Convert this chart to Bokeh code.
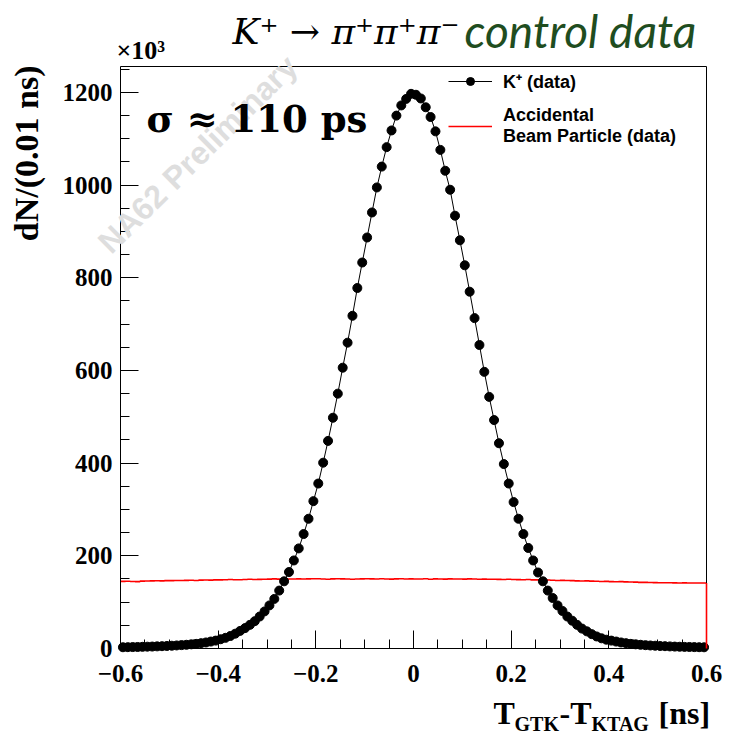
import numpy as np
from bokeh.plotting import figure
from bokeh.models import (Range1d, FixedTicker, CustomJSTickFormatter, Label,
                          Legend, LegendItem, ColumnDataSource, LinearAxis)
from bokeh.embed import file_html
from bokeh.resources import INLINE

# ---------------- data ----------------
x_min, x_max = -0.6, 0.6
n_bins = 120
y_max = 1256.0            # ×10^3

# K+ (data), entries per 0.01 ns bin, in units of 10^3
kplus = [
    2.7, 2.9, 3.1, 3.3, 3.6, 3.9, 4.2, 4.6, 5.0, 5.5,
    6.0, 6.6, 7.3, 8.0, 9.0, 10.0, 11.5, 13, 15, 17,
    20, 23, 27, 32, 38, 44, 51, 59, 69, 80,
    93, 107, 125, 145, 165, 190, 216, 247, 280, 318,
    356, 401, 448, 498, 550, 606, 660, 718, 778, 833,
    887, 941, 995, 1040, 1082, 1118, 1150, 1172, 1186, 1197,
    1195, 1187, 1168, 1147, 1116, 1076, 1031, 990, 934, 881,
    827, 770, 713, 655, 597, 543, 493, 443, 398, 356,
    316, 280, 247, 217, 190, 164, 145, 125, 109, 93,
    81, 69, 60, 51, 43, 37, 31, 26, 22, 19,
    17, 15, 13, 11.5, 10, 9, 8, 7.2, 6.5, 6.0,
    5.4, 5.0, 4.5, 4.1, 3.8, 3.5, 3.3, 3.0, 2.8, 2.6,
]

# Accidental beam particle (data), units of 10^3
accidental = [
    144.8, 145.2, 144.6, 144.4, 145.5, 145.7, 145.9, 146.2, 146.0, 146.4,
    146.5, 146.8, 146.6, 147.0, 147.2, 146.9, 147.5, 147.8, 147.6, 148.0,
    148.2, 148.4, 148.9, 148.3, 148.5, 148.8, 149.4, 149.0, 149.2, 149.5,
    149.7, 150.2, 149.8, 149.3, 150.0, 150.1, 150.3, 149.9, 150.2, 150.5,
    150.4, 150.1, 149.6, 150.3, 150.6, 150.2, 150.0, 149.5, 150.1, 150.3,
    150.4, 150.2, 150.0, 150.5, 150.1, 149.8, 150.3, 150.6, 150.0, 150.2,
    149.9, 150.1, 150.4, 149.6, 150.2, 150.0, 149.7, 150.3, 150.1, 149.9,
    149.8, 150.2, 149.9, 149.5, 149.7, 149.4, 149.6, 149.2, 149.0, 149.3,
    148.9, 148.7, 148.4, 148.8, 148.2, 148.0, 147.6, 147.8, 147.3, 146.6,
    147.0, 146.8, 146.4, 146.0, 145.6, 145.9, 145.3, 145.1, 144.6, 144.9,
    144.4, 144.0, 144.3, 143.8, 143.5, 143.2, 142.8, 142.6, 142.4, 142.1,
    142.0, 141.8, 141.9, 141.7, 141.5, 141.6, 141.4, 141.5, 141.3, 141.4,
]

x_ticks = [-0.6, -0.4, -0.2, 0.0, 0.2, 0.4, 0.6]
y_ticks = [0, 200, 400, 600, 800, 1000, 1200]

edges = np.linspace(x_min, x_max, n_bins + 1)
centers = 0.5 * (edges[:-1] + edges[1:])

# ---------------- layout ----------------
# The Bokeh frame spans the whole canvas; the ROOT-style frame sits inside it
# (axes drawn at fixed locations), so that texts outside it are not clipped.
W, H = 731, 743
FL, FR, FT, FB = 120, 706, 66, 648          # inner frame, pixels
SHIFT = 0.42                                 # baseline correction (em)


def px2x(px):
    return x_min + (px - FL) / (FR - FL) * (x_max - x_min)


def py2y(py):
    return y_max * (FB - py) / (FB - FT)


p = figure(width=W, height=H, output_backend="svg", toolbar_location=None,
           x_range=Range1d(px2x(0), px2x(W)), y_range=Range1d(py2y(H), py2y(0)),
           min_border=0, x_axis_location=None, y_axis_location=None)
p.background_fill_color = "white"
p.border_fill_color = "white"
p.xgrid.visible = False
p.ygrid.visible = False
p.outline_line_color = None

x_fmt = CustomJSTickFormatter(code="""
    if (Math.abs(tick) < 1e-9) return '0';
    return (tick < 0 ? '\u2212' : '') + Math.abs(tick).toFixed(1);
""")

xaxis = LinearAxis(fixed_location=0, bounds=(x_min, x_max),
                   ticker=FixedTicker(ticks=x_ticks,
                                      minor_ticks=list(np.round(np.arange(-0.6, 0.6001, 0.05), 3))),
                   formatter=x_fmt)
yaxis = LinearAxis(fixed_location=x_min, bounds=(0, y_max),
                   ticker=FixedTicker(ticks=y_ticks,
                                      minor_ticks=list(np.arange(0, 1251, 50))))
for ax in (xaxis, yaxis):
    ax.major_tick_in = 18
    ax.major_tick_out = 0
    ax.minor_tick_in = 9
    ax.minor_tick_out = 0
    ax.axis_line_color = "black"
    ax.major_tick_line_color = "black"
    ax.minor_tick_line_color = "black"
    ax.major_label_text_font = "Liberation Serif"
    ax.major_label_text_font_style = "bold"
    ax.major_label_text_font_size = "25px"
    ax.major_label_text_color = "black"
xaxis.major_label_standoff = 16
yaxis.major_label_standoff = 8
p.add_layout(xaxis, "below")
p.add_layout(yaxis, "left")

# top and right frame lines
top = LinearAxis(fixed_location=y_max, bounds=(x_min, x_max), ticker=FixedTicker(ticks=[]))
right = LinearAxis(fixed_location=x_max, bounds=(0, y_max), ticker=FixedTicker(ticks=[]))
for ax in (top, right):
    ax.major_label_text_font_size = "0px"
    ax.major_tick_in = 0
    ax.major_tick_out = 0
    ax.minor_tick_in = 0
    ax.minor_tick_out = 0
    ax.axis_line_color = "black"
p.add_layout(top, "above")
p.add_layout(right, "right")


def text(px, py_base, s, size, font, style="normal", color="black", align="left",
         angle=0.0):
    """Place text with its alphabetic baseline at pixel row py_base."""
    if angle:
        xx, yy = px2x(px - SHIFT * size), py2y(py_base)
    else:
        xx, yy = px2x(px), py2y(py_base - SHIFT * size)
    p.add_layout(Label(x=xx, y=yy, text=s, angle=angle, text_font=font,
                       text_font_style=style, text_font_size=f"{size}px",
                       text_color=color, text_align=align,
                       text_baseline="alphabetic"))


# watermark
p.add_layout(Label(x=px2x(103), y=py2y(247), text="NA62 Preliminary",
                   angle=0.78, text_font="Liberation Sans", text_font_style="bold",
                   text_font_size="32px", text_color="#dedede",
                   text_align="left", text_baseline="alphabetic"))

# accidental histogram (step)
red_y = list(accidental) + [accidental[-1]]
r_red = p.step(x=edges, y=red_y, mode="after", line_color="#ff0000", line_width=1.6)
p.segment(x0=[edges[-1]], y0=[accidental[-1]], x1=[edges[-1]], y1=[0],
          line_color="#ff0000", line_width=1.6, level="overlay")

# K+ data: line + markers
src = ColumnDataSource(dict(x=centers, y=kplus))
r_line = p.line("x", "y", source=src, line_color="black", line_width=1)
r_pts = p.scatter("x", "y", source=src, size=9, marker="circle",
                  fill_color="black", line_color="black")

# legend
legend = Legend(items=[
    LegendItem(label="K\u207a (data)", renderers=[r_line, r_pts]),
    LegendItem(label="Accidental\nBeam Particle (data)", renderers=[r_red]),
], location=(448, 596))
legend.border_line_color = None
legend.background_fill_alpha = 0
legend.label_text_font = "Liberation Sans"
legend.label_text_font_style = "bold"
legend.label_text_font_size = "18px"
legend.label_text_line_height = 1.25
legend.label_text_color = "black"
legend.glyph_width = 44
legend.glyph_height = 20
legend.label_standoff = 11
legend.spacing = 12
legend.padding = 0
legend.margin = 0
p.add_layout(legend)

# texts
text(146, 134, "\u03c3 \u2248 110 ps", 37, "DejaVu Serif", "bold")
text(116, 61, "\u00d710\u00b3", 26, "Liberation Serif", "bold")
text(232, 46, "K\u207a \u2192 \u03c0\u207a\u03c0\u207a\u03c0\u207b", 36,
     "DejaVu Serif", "italic")
text(464, 49, "control data", 46, "Lato", "italic", color="#1f4d1f")

# y-axis title (rotated, aligned to top)
text(40, 65, "dN/(0.01 ns)", 34, "Liberation Serif", "bold", align="right",
     angle=np.pi / 2)

# x-axis title composed of pieces: T_GTK-T_KTAG [ns]
big, small = 32, 20
for s, px, base, size in [("T", 493, 726, big), ("GTK", 514, 732, small),
                          ("-T", 559, 726, big), ("KTAG", 591, 732, small),
                          ("[ns]", 658, 726, big)]:
    text(px, base, s, size, "Liberation Serif", "bold")

open("out.html", "w").write(file_html(p, INLINE))
